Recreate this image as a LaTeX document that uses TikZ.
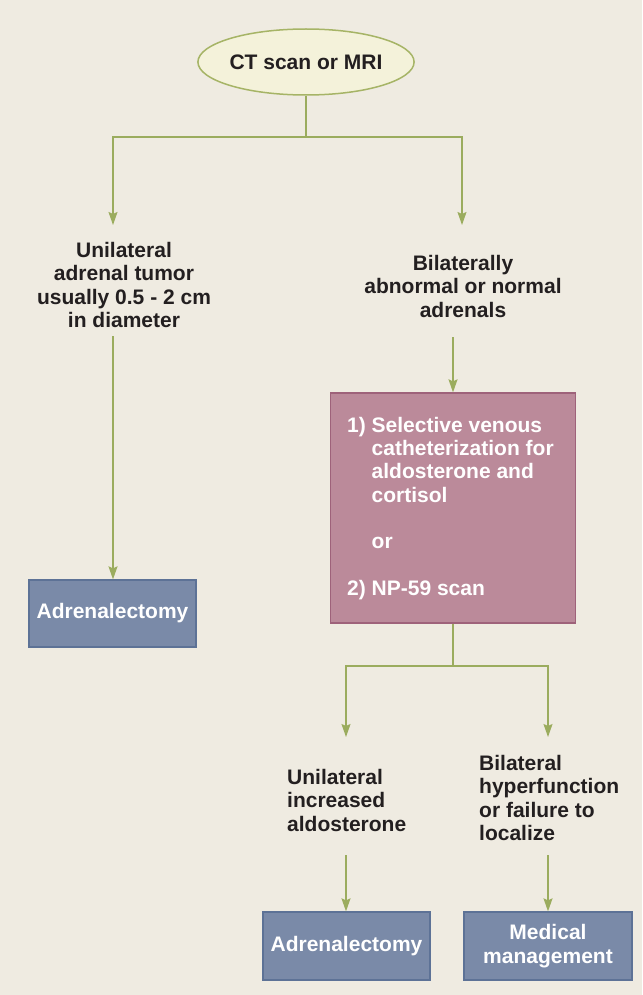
\documentclass[tikz,border=0pt]{standalone}
\usepackage{fontspec}
\setmainfont{Liberation Sans}
\usetikzlibrary{shapes.geometric,arrows.meta}
\definecolor{bgc}{RGB}{239,235,225}
\definecolor{linec}{RGB}{155,172,94}
\definecolor{ellfill}{RGB}{244,242,218}
\definecolor{elldraw}{RGB}{166,180,102}
\definecolor{pinkfill}{RGB}{187,138,154}
\definecolor{pinkdraw}{RGB}{158,98,122}
\definecolor{bluefill}{RGB}{122,138,168}
\definecolor{bluedraw}{RGB}{93,114,150}
\definecolor{txt}{RGB}{35,31,32}
\tikzset{
  lbl/.style={font=\bfseries\fontsize{21}{23.5}\selectfont, text=txt, inner sep=0pt},
  conn/.style={draw=linec, line width=1.3pt},
  arr/.style={conn, -{Stealth[length=13pt,width=9pt,inset=2pt]}},
  bluebox/.style={draw=bluedraw, fill=bluefill, line width=1.3pt, text=white,
    font=\bfseries\fontsize{21}{23.5}\selectfont, align=center, inner sep=0pt},
}
\begin{document}
\begin{tikzpicture}[x=1pt,y=-1pt]
\fill[bgc] (0,0) rectangle (642,995);
\useasboundingbox (0,0) rectangle (642,995);

\node[ellipse, draw=elldraw, fill=ellfill, line width=1.5pt, minimum width=198pt, minimum height=66pt,
  inner sep=0pt, font=\bfseries\fontsize{21}{24}\selectfont, text=txt] (ct) at (306,62) {CT scan or MRI};

\node[lbl, align=center] (t1) at (124,285) {Unilateral\\adrenal tumor\\usually 0.5 - 2 cm\\in diameter};
\node[lbl, align=center] (t2) at (463,286) {Bilaterally\\abnormal or normal\\adrenals};

\node[bluebox, minimum width=167pt, minimum height=67pt] (adr1) at (112.5,613.5) {Adrenalectomy};

\node[draw=pinkdraw, fill=pinkfill, line width=1.3pt, minimum width=245pt, minimum height=230pt, inner sep=0pt] (pink) at (453,508) {};
\node[font=\bfseries\fontsize{21}{23.3}\selectfont, text=white, align=left, inner sep=0pt, anchor=west] (pt) at (347,508.5)
  {1) Selective venous\\\phantom{1) }catheterization for\\\phantom{1) }aldosterone and\\\phantom{1) }cortisol\\\mbox{}\\\phantom{1) }or\\\mbox{}\\2) NP-59 scan};

\node[lbl, align=left, anchor=west] (t3) at (287,800) {Unilateral\\increased\\aldosterone};
\node[lbl, align=left, anchor=west] (t4) at (479,798) {Bilateral\\hyperfunction\\or failure to\\localize};

\node[bluebox, minimum width=167pt, minimum height=68pt] (adr2) at (346.5,946) {Adrenalectomy};
\node[bluebox, minimum width=168pt, minimum height=68pt] (med) at (548,946) {Medical\\management};

\coordinate (j1) at (306,137);
\coordinate (a1) at (113,225);
\coordinate (a2) at (462,225);
\coordinate (s1) at (113,336);
\coordinate (s2) at (453,337);
\coordinate (j2) at (453,666);
\coordinate (a3) at (346,737);
\coordinate (a4) at (548,737);
\coordinate (s3) at (346,855);
\coordinate (s4) at (548,855);

\draw[conn] (ct) -- (j1);
\draw[arr] (j1) -| (a1);
\draw[arr] (j1) -| (a2);
\draw[arr] (s1) -- (s1 |- adr1.north);
\draw[arr] (s2) -- (pink.north);
\draw[conn] (pink.south) -- (j2);
\draw[arr] (j2) -| (a3);
\draw[arr] (j2) -| (a4);
\draw[arr] (s3) -- (s3 |- adr2.north);
\draw[arr] (s4) -- (s4 |- med.north);
\end{tikzpicture}
\end{document}
